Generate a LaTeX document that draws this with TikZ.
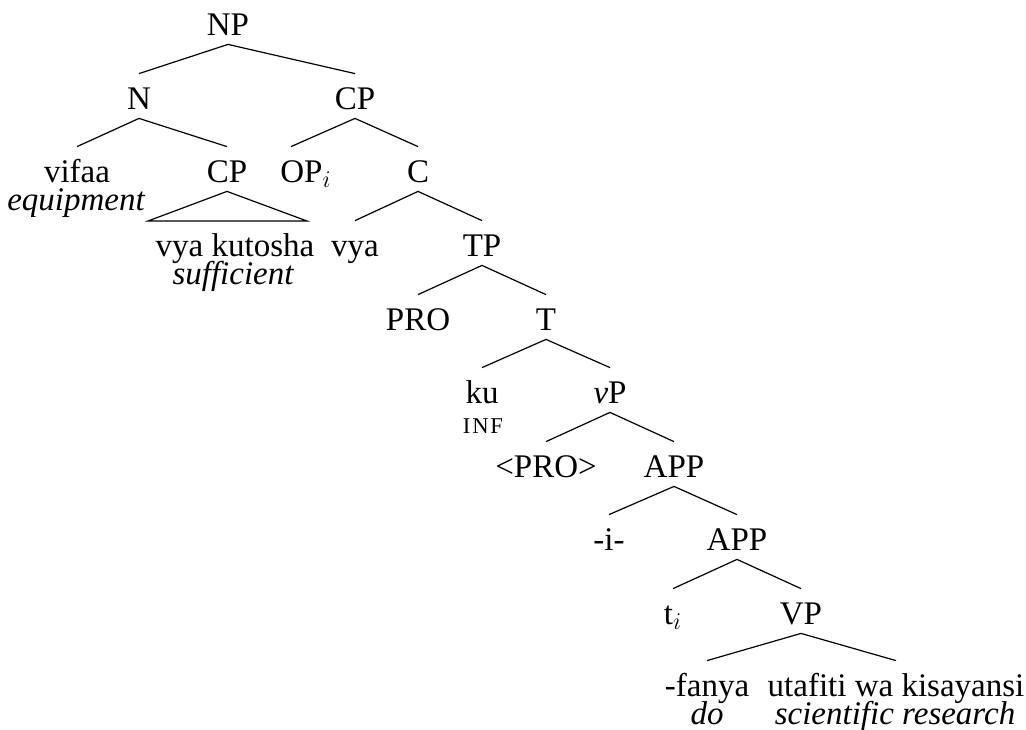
\documentclass[tikz,border=0pt]{standalone}
\usepackage{fontspec}
\setmainfont{Liberation Serif}
\begin{document}
\begin{tikzpicture}[x=0.5pt,y=-0.5pt,
  lab/.style={anchor=base, font=\fontsize{16.5}{20}\selectfont, text height=13pt, text depth=0pt, inner xsep=0pt, inner ysep=4.5pt},
  gl/.style={anchor=base, inner sep=0pt, font=\fontsize{16.5}{20}\selectfont\itshape},
  sc/.style={anchor=base, inner sep=0pt, font=\fontsize{11.3}{13}\selectfont\addfontfeature{LetterSpace=8}},
  br/.style={line width=0.6pt}]
\useasboundingbox (0,0) rectangle (1026,729);
% nodes (y = baselines)
\node[lab] (np) at (228,35) {NP};
\node[lab] (n) at (139,109) {N};
\node[lab] (cp) at (355,109) {CP};
\node[lab] (vifaa) at (77,182) {vifaa};
\node[gl] (vifaag) at (76,210) {equipment};
\node[lab] (cpb) at (227,182) {CP};
\node[lab] (vk) at (235,256) {vya kutosha};
\node[gl] (vkg) at (233,284) {sufficient};
\node[lab] (op) at (306,182) {OP$_i$};
\node[lab] (c) at (418,182) {C};
\node[lab] (vya) at (355,256) {vya};
\node[lab] (tp) at (482,256) {TP};
\node[lab] (pro) at (418,330) {PRO};
\node[lab] (t) at (546,330) {T};
\node[lab] (ku) at (482,403) {ku};
\node[sc] (inf) at (483,433) {INF};
\node[lab] (vp) at (610,403) {\textit{v}P};
\node[lab] (pro2) at (546,477) {<PRO>};
\node[lab] (app) at (674,477) {APP};
\node[lab] (i) at (609,550) {-i-};
\node[lab] (app2) at (737,550) {APP};
\node[lab] (ti) at (673,624) {t$_i$};
\node[lab] (vpp) at (801,624) {VP};
\node[lab] (fanya) at (707,696) {-fanya};
\node[gl] (do) at (707,724) {do};
\node[lab] (uta) at (896,696) {utafiti wa kisayansi};
\node[gl] (utag) at (895,724) {scientific research};
\coordinate (tl) at (148,221);
\coordinate (tr) at (307,221);
% branches
\draw[br] (n.north) -- (np.south) -- (cp.north);
\draw[br] (vifaa.north) -- (n.south) -- (cpb.north);
\draw[br] (tl) -- (cpb.south) -- (tr) -- cycle;
\draw[br] ([xshift=-7.5pt]op.north) -- (cp.south) -- (c.north);
\draw[br] (vya.north) -- (c.south) -- (tp.north);
\draw[br] (pro.north) -- (tp.south) -- (t.north);
\draw[br] (ku.north) -- (t.south) -- (vp.north);
\draw[br] (pro2.north) -- (vp.south) -- (app.north);
\draw[br] (i.north) -- (app.south) -- (app2.north);
\draw[br] (ti.north) -- (app2.south) -- (vpp.north);
\draw[br] (fanya.north) -- (vpp.south) -- (uta.north);
\end{tikzpicture}
\end{document}
